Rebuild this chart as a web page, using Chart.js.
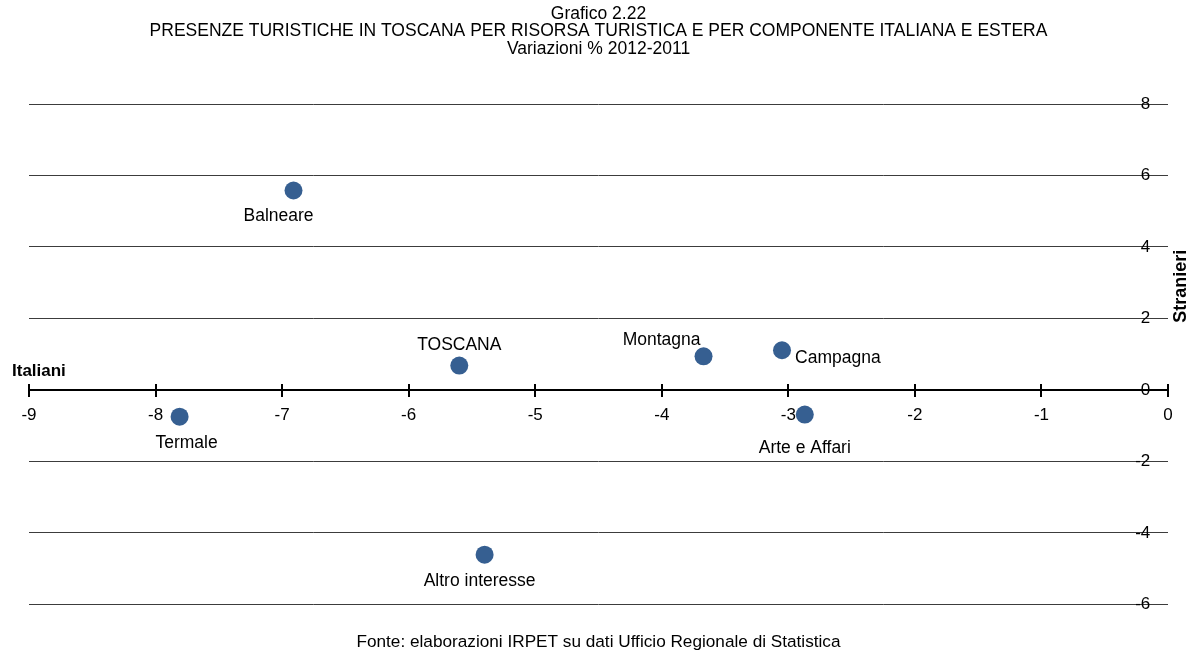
<!DOCTYPE html>
<html>
<head>
<meta charset="utf-8">
<script src="https://cdn.jsdelivr.net/npm/chart.js@4.4.1/dist/chart.umd.min.js"></script>
<style>
  html, body { margin: 0; padding: 0; background: #fff; }
  #wrap { width: 1189px; height: 655px; }
</style>
</head>
<body>
<div id="wrap"><canvas id="chart"></canvas></div>
<script>
// valori (variazioni % 2012-2011)
const risorse = ['Balneare', 'TOSCANA', 'Montagna', 'Campagna', 'Arte e Affari', 'Termale', 'Altro interesse'];
const italiani = [-6.91, -5.60, -3.67, -3.05, -2.87, -7.81, -5.40];
const stranieri = [5.58, 0.68, 0.94, 1.11, -0.69, -0.75, -4.61];
const xTickValues = [-9, -8, -7, -6, -5, -4, -3, -2, -1, 0];
const yTickValues = [-6, -4, -2, 0, 2, 4, 6, 8];

// dove mettere le etichette rispetto al punto: [dx, dy, allineamento]
const labelPos = {
    'Balneare': [-15, 26, 'center'],
    'TOSCANA': [0, -20, 'center'],
    'Montagna': [-3, -16, 'right'],
    'Campagna': [13, 8, 'left'],
    'Arte e Affari': [0, 34, 'center'],
    'Termale': [7, 26, 'center'],
    'Altro interesse': [-5, 26, 'center']
};

const FONT = '"Liberation Sans", Arial, sans-serif';

const pointLabels = {
    id: 'pointLabels',
    afterDatasetsDraw(chart) {
        const ctx = chart.ctx;
        const meta = chart.getDatasetMeta(0);
        ctx.save();
        ctx.fillStyle = '#000';
        ctx.textBaseline = 'middle';
        ctx.font = '17.5px ' + FONT;
        meta.data.forEach((pt, i) => {
            const p = labelPos[risorse[i]];
            ctx.textAlign = p[2];
            ctx.fillText(risorse[i], pt.x + p[0], pt.y + p[1]);
        });

        const xs = chart.scales.x;
        const ys = chart.scales.y;
        ctx.font = 'bold 17px ' + FONT;
        ctx.textAlign = 'left';
        ctx.fillText('Italiani', 12, ys.getPixelForValue(0) - 19);

        ctx.translate(xs.getPixelForValue(0) + 13, ys.getPixelForValue(2.9));
        ctx.rotate(-Math.PI / 2);
        ctx.textAlign = 'center';
        ctx.font = 'bold 18px ' + FONT;
        ctx.fillText('Stranieri', 0, 0);
        ctx.restore();
    }
};

const ctx = document.getElementById('chart').getContext('2d');
new Chart(ctx, {
    type: 'scatter',
    data: {
        datasets: [{
            data: risorse.map((r, i) => ({ x: italiani[i], y: stranieri[i] })),
            backgroundColor: '#365f91',
            borderWidth: 0,
            pointRadius: 9,
            pointHoverRadius: 9
        }]
    },
    options: {
        responsive: true,
        maintainAspectRatio: false,
        animation: false,
        events: [],
        layout: { padding: { left: 29, right: 21, top: 0, bottom: 0 } },
        plugins: {
            legend: { display: false },
            tooltip: { enabled: false },
            title: {
                display: true,
                text: ['Grafico 2.22',
                       'PRESENZE TURISTICHE IN TOSCANA PER RISORSA TURISTICA E PER COMPONENTE ITALIANA E ESTERA',
                       'Variazioni % 2012-2011'],
                color: '#000',
                font: { family: FONT, size: 17.5, weight: 'normal', lineHeight: '17.5px' },
                padding: { top: 5, bottom: 46.5 }
            },
            subtitle: {
                display: true,
                position: 'bottom',
                text: 'Fonte: elaborazioni IRPET su dati Ufficio Regionale di Statistica',
                color: '#000',
                font: { family: FONT, size: 17.2, weight: 'normal', lineHeight: 1.2 },
                padding: { top: 28, bottom: 2 }
            }
        },
        scales: {
            x: {
                type: 'linear',
                min: -9,
                max: 0,
                position: { y: 0 },
                afterBuildTicks: s => { s.ticks = xTickValues.map(v => ({ value: v })); },
                grid: { drawOnChartArea: false, drawTicks: true, tickLength: 6, color: '#000', lineWidth: 2 },
                border: { display: true, color: '#000', width: 2 },
                ticks: { color: '#000', padding: 9, font: { family: FONT, size: 17 }, maxRotation: 0 }
            },
            x2: {
                type: 'linear',
                axis: 'x',
                min: -9,
                max: 0,
                position: { y: 0 },
                afterBuildTicks: s => { s.ticks = xTickValues.map(v => ({ value: v })); },
                grid: { drawOnChartArea: false, drawTicks: true, tickLength: -6, color: '#000', lineWidth: 2 },
                border: { display: false },
                ticks: { display: false }
            },
            y: {
                type: 'linear',
                min: -6,
                max: 8,
                // etichette appena a sinistra del bordo destro, sopra le linee
                position: { x: -0.14 },
                afterBuildTicks: s => { s.ticks = yTickValues.map(v => ({ value: v })); },
                grid: {
                    drawTicks: false,
                    color: c => (c.tick && c.tick.value === 0) ? 'rgba(0,0,0,0)' : '#3c3c3c',
                    lineWidth: 1
                },
                border: { display: false },
                ticks: { color: '#000', font: { family: FONT, size: 17 } }
            }
        }
    },
    plugins: [pointLabels]
});
</script>
</body>
</html>
